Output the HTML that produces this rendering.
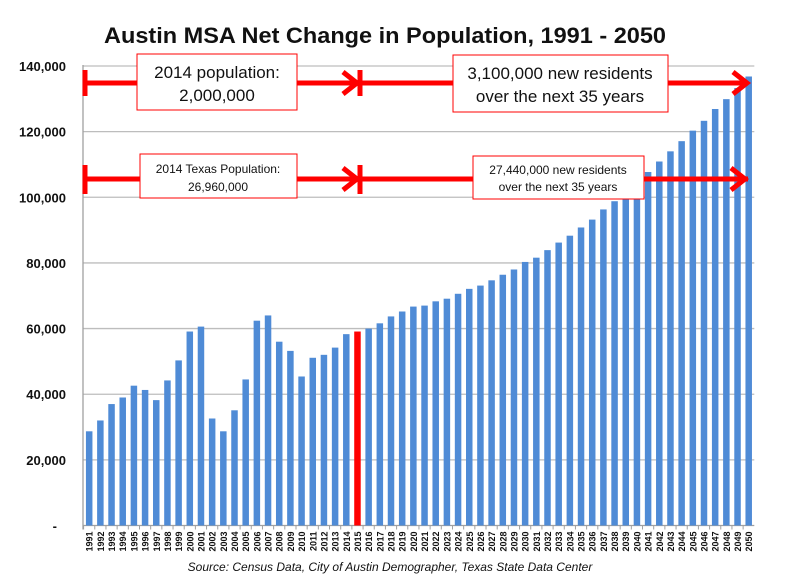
<!DOCTYPE html>
<html><head><meta charset="utf-8"><style>
body{margin:0;background:#fff;}
svg{display:block;font-family:"Liberation Sans",sans-serif;}
</style></head><body>
<svg id="chart" width="787" height="586">
<text x="385" y="43" text-anchor="middle" font-size="22" font-weight="bold" fill="#111" textLength="562" lengthAdjust="spacingAndGlyphs">Austin MSA Net Change in Population, 1991 - 2050</text>
<g id="grid"></g><g id="bars"></g><g id="xlabels"></g><g id="ylabels"></g>
<g id="ann">
 <g stroke="#f00" fill="none" stroke-width="5">
  <line x1="85" y1="83" x2="748" y2="83"/>
  <line x1="85" y1="70" x2="85" y2="96"/>
  <line x1="360" y1="70" x2="360" y2="96"/>
  <polyline points="343,72 357,83 343,94"/>
  <polyline points="733,72 747,83 733,94"/>
  <line x1="85" y1="179" x2="748" y2="179"/>
  <line x1="85" y1="165" x2="85" y2="194"/>
  <line x1="360" y1="165" x2="360" y2="194"/>
  <polyline points="343,168 357,179 343,190"/>
  <polyline points="731,168 745,179 731,190"/>
 </g>
 <rect x="137" y="54" width="160" height="56" fill="#fff" stroke="#f00" stroke-width="1"/>
 <text x="217" y="78" text-anchor="middle" font-size="17" fill="#111">2014 population:</text>
 <text x="217" y="101" text-anchor="middle" font-size="17" fill="#111">2,000,000</text>
 <rect x="453" y="55" width="215" height="57" fill="#fff" stroke="#f00" stroke-width="1"/>
 <text x="560" y="79" text-anchor="middle" font-size="17" fill="#111">3,100,000 new residents</text>
 <text x="560" y="102" text-anchor="middle" font-size="17" fill="#111">over the next 35 years</text>
 <rect x="140" y="154" width="157" height="44" fill="#fff" stroke="#f00" stroke-width="1"/>
 <text x="218" y="173" text-anchor="middle" font-size="12" fill="#111">2014 Texas Population:</text>
 <text x="218" y="191" text-anchor="middle" font-size="12" fill="#111">26,960,000</text>
 <rect x="473" y="156" width="171" height="43" fill="#fff" stroke="#f00" stroke-width="1"/>
 <text x="558" y="174" text-anchor="middle" font-size="12" fill="#111">27,440,000 new residents</text>
 <text x="558" y="191" text-anchor="middle" font-size="12" fill="#111">over the next 35 years</text>
</g>
<text x="390" y="571" text-anchor="middle" font-size="12" font-style="italic" fill="#111">Source: Census Data, City of Austin Demographer, Texas State Data Center</text>
</svg>
<script>
const years = [];
for (let y = 1991; y <= 2050; y++) years.push(String(y));
const values = [28700,32000,37000,39000,42600,41300,38200,44200,50300,59100,60600,32600,28700,35100,44500,62400,64000,56000,53200,45400,51100,52000,54200,58300,59100,60000,61600,63700,65200,66700,67000,68300,69100,70600,72100,73100,74700,76400,78000,80300,81600,83900,86200,88300,90800,93200,96300,98800,100000,100800,107700,110900,114000,117100,120300,123300,126900,129900,133300,136800];
const highlightYear = "2015";
const yTicks = [0,20000,40000,60000,80000,100000,120000,140000];
const yTickLabels = ["-","20,000","40,000","60,000","80,000","100,000","120,000","140,000"];

const NS = "http://www.w3.org/2000/svg";
const plotL = 83.6, plotR = 754.3, y0 = 525.5, yTop = 66;
const yScale = v => y0 - (v / 140000) * (y0 - yTop);
const slot = (plotR - plotL) / years.length;
const xCenter = i => plotL + slot * (i + 0.5);
function mk(tag, attrs, parent) { const e = document.createElementNS(NS, tag); for (const k in attrs) e.setAttribute(k, attrs[k]); parent.appendChild(e); return e; }

const grid = document.getElementById('grid');
const yl = document.getElementById('ylabels');
yTicks.forEach((t, i) => {
  if (t > 0) {
    const g = mk('line', {x1: plotL - 1, x2: plotR, y1: yScale(t), y2: yScale(t), stroke: '#bdbdbd', 'stroke-width': 1.3}, grid);
    
    
  }
  const tx = mk('text', {x: i === 0 ? 57 : 66, y: yScale(t) + 5, 'text-anchor': 'end', 'font-size': 13, 'font-weight': 'bold', fill: '#111'}, yl);
  tx.textContent = yTickLabels[i];
  
  
});
const ax = mk('line', {x1: 83, x2: 83, y1: yTop - 1, y2: y0 + 4, stroke: '#a0a0a0', 'stroke-width': 1.3}, grid);


const bx = mk('line', {x1: 83, x2: plotR, y1: y0, y2: y0, stroke: '#a0a0a0', 'stroke-width': 1.3}, grid);



const bars = document.getElementById('bars');
const xl = document.getElementById('xlabels');
years.forEach((yr, i) => {
  const w = 6.5, cx = xCenter(i), top = yScale(values[i]);
  const r = mk('rect', {x: cx - w / 2, y: top, width: w, height: y0 - top, fill: yr === highlightYear ? '#ff0000' : '#4f8bd6'}, bars);
  
  
  const tk = mk('line', {x1: plotL + slot * i, x2: plotL + slot * i, y1: y0, y2: y0 + 4, stroke: '#a0a0a0'}, grid);
  
  
  const t = mk('text', {x: 0, y: 0, 'font-size': 9, 'font-weight': 'bold', fill: '#111', 'text-anchor': 'end', transform: `translate(${cx + 3.5},${y0 + 6}) rotate(-90)`}, xl);
  t.textContent = yr;
  
  
});
</script>
</body></html>
